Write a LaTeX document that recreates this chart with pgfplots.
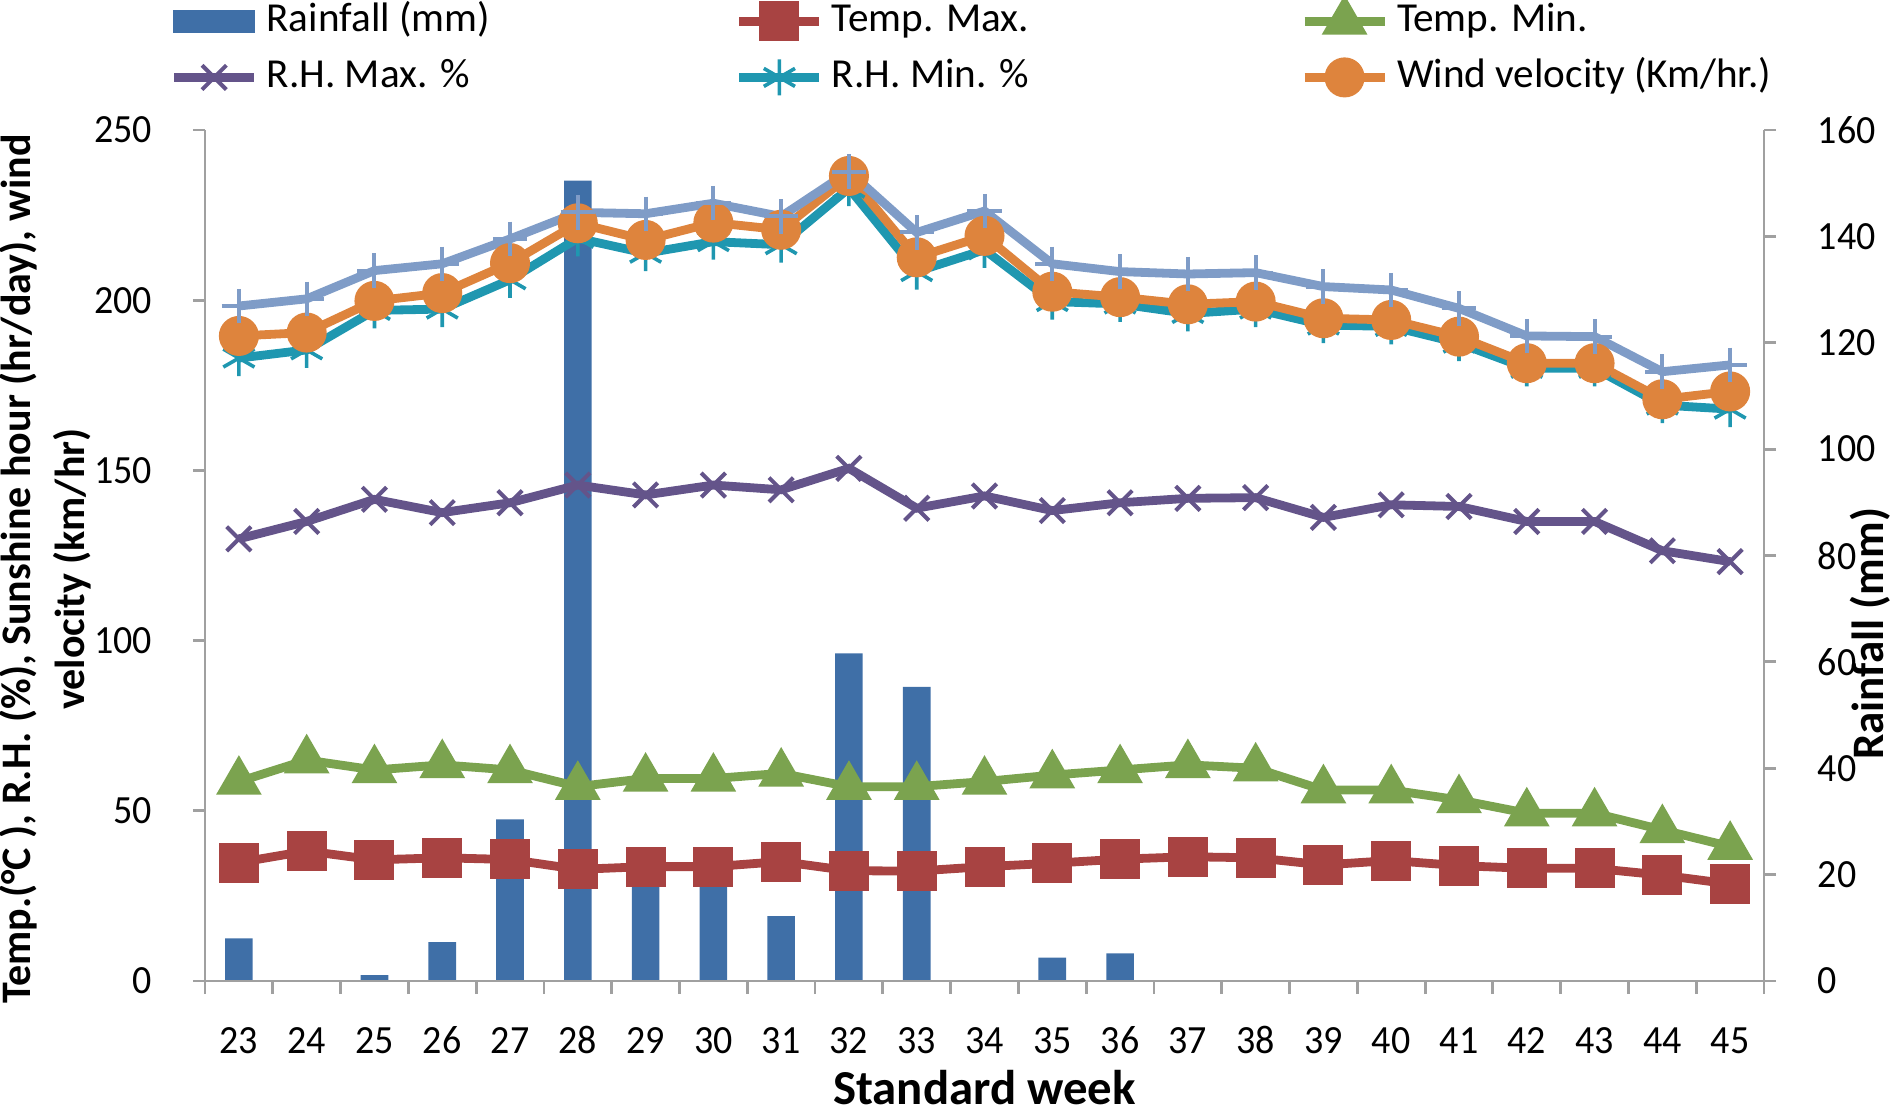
\documentclass[border=0pt]{standalone}
\usepackage{fontspec}
\setmainfont{Carlito}
\newfontfamily\tickfont{Carlito}[FakeStretch=0.95]
\usepackage{pgfplots}
\pgfplotsset{compat=1.18}
\definecolor{barblue}{HTML}{3F6FA7}
\definecolor{tmaxred}{HTML}{A84342}
\definecolor{tmingreen}{HTML}{7BA34F}
\definecolor{rhmaxpurple}{HTML}{64548A}
\definecolor{rhminteal}{HTML}{1F97B0}
\definecolor{windorange}{HTML}{DE843D}
\definecolor{sunblue}{HTML}{7F9CC7}
\definecolor{axisgray}{HTML}{A0A0A0}
\begin{document}
\begin{tikzpicture}
\pgfplotsset{
  common/.style={
    scale only axis, width=389.75pt, height=212.75pt,
    at={(0,0)}, anchor=south west,
    xmin=22.5, xmax=45.5,
    axis line style={draw=axisgray, line width=0.7pt},
    tick style={draw=axisgray, line width=0.7pt},
    tick align=outside,
    major tick length=3pt,
    /pgf/number format/assume math mode=true,
    ticklabel style={font=\tickfont\fontsize{10}{12}\selectfont, text=black},
    clip=false,
  }
}
% ---------- rainfall (right axis) ----------
\begin{axis}[common,
  axis x line=none,
  axis y line*=right,
  ymin=0, ymax=160, ytick={0,20,...,160},
  yticklabel style={anchor=west, inner xsep=0pt, xshift=10.25pt},
  every axis y label/.style={at={(axis description cs:1,0.408)}, xshift=26.5pt, rotate=90, anchor=center, font=\bfseries\fontsize{11.25}{13}\selectfont},
  ylabel={Rainfall (mm)},
]
\addplot[ybar, bar width=6.9pt, bar shift=0pt, fill=barblue, draw=none] coordinates {
(23,8.0) (24,0) (25,1.1) (26,7.3) (27,30.4) (28,150.5) (29,21) (30,21) (31,12.2)
(32,61.6) (33,55.3) (34,0) (35,4.4) (36,5.2) (37,0) (38,0) (39,0) (40,0) (41,0)
(42,0) (43,0) (44,0) (45,0)};
\end{axis}
% ---------- lines (left axis) ----------
\begin{axis}[common,
  axis x line*=bottom, axis y line*=left,
  ymin=0, ymax=250, ytick={0,50,...,250},
  xtick={23,...,45}, minor xtick={22.5,23.5,...,45.5},
  major x tick style={draw=none},
  minor tick length=3.3pt,
  yticklabel style={anchor=east, inner xsep=0pt, xshift=-10pt},
  xticklabel style={anchor=base, yshift=-15pt},
  every axis y label/.style={at={(axis description cs:0,0.484)}, xshift=-40pt, rotate=90, anchor=center, align=center, font=\bfseries\fontsize{10.5}{13.5}\selectfont},
  ylabel={Temp.(°C ), R.H. (\%), Sunshine hour (hr/day), wind\\velocity (km/hr)},
  every axis x label/.style={at={(axis description cs:0.5,0)}, yshift=-30.75pt, anchor=base, inner sep=0pt, font=\bfseries\fontsize{12.2}{14}\selectfont},
  xlabel={Standard week},
  legend columns=3,
  legend cell align=left,
  legend style={at={(0,1)}, anchor=west, xshift=-9pt, yshift=20.15pt,
    draw=none, fill=none, inner sep=0pt, row sep=4pt,
    font=\fontsize{10.3}{12}\selectfont,
    nodes={inner xsep=2pt, inner ysep=0pt, text height=7.5pt, text depth=2.5pt},
    /tikz/every even column/.append style={column sep=0pt}},
  legend image code/.code={\draw[mark repeat=2,mark phase=2,#1] plot coordinates {(0pt,0pt) (10pt,0pt) (20pt,0pt)};},
]
\addlegendimage{legend image code/.code={\fill[barblue] (0pt,-2.75pt) rectangle (20pt,2.75pt);}}
\addlegendentry{\makebox[115.1pt][l]{Rainfall (mm)}}

\addplot[color=tmaxred, line width=2.2pt, mark=square*, mark size=3.9pt, mark options={solid, fill=tmaxred}] coordinates {
(23,34.8) (24,38.2) (25,35.6) (26,36.2) (27,35.7) (28,32.8) (29,33.6) (30,33.6) (31,35.1)
(32,32.4) (33,32.3) (34,33.6) (35,34.6) (36,35.8) (37,36.5) (38,36.2) (39,34.1) (40,35.4)
(41,33.9) (42,33.1) (43,33.1) (44,31.1) (45,28.5)};
\addlegendentry{\makebox[115.1pt][l]{Temp. Max.}}

\addplot[color=tmingreen, line width=2.2pt, mark=triangle*, mark size=4.4pt, mark options={solid, fill=tmingreen}] coordinates {
(23,58.6) (24,64.9) (25,62.0) (26,63.5) (27,62.0) (28,57.1) (29,59.5) (30,59.5) (31,61.0)
(32,57.1) (33,57.1) (34,58.6) (35,60.5) (36,62.0) (37,63.5) (38,62.5) (39,56.1) (40,56.1)
(41,53.2) (42,49.3) (43,49.3) (44,44.4) (45,39.5)};
\addlegendentry{Temp. Min.}

\addplot[color=rhmaxpurple, line width=2.2pt, mark=x, mark size=4.3pt, mark options={solid, line width=1pt}] coordinates {
(23,129.9) (24,135.0) (25,141.5) (26,137.6) (27,140.5) (28,145.7) (29,142.8) (30,145.7) (31,144.3)
(32,150.6) (33,138.9) (34,142.5) (35,138.2) (36,140.5) (37,141.8) (38,142.0) (39,136.2) (40,139.9)
(41,139.4) (42,135.0) (43,135.0) (44,126.4) (45,123.2)};
\addlegendentry{\makebox[115.1pt][l]{R.H. Max. \%}}

\addplot[color=rhminteal, line width=2.2pt, mark=asterisk, mark size=4.5pt, mark options={solid, line width=0.9pt}] coordinates {
(23,183.0) (24,185.4) (25,197.0) (26,197.4) (27,206.0) (28,218.2) (29,213.8) (30,217.2) (31,216.3)
(32,232.9) (33,208.4) (34,214.8) (35,199.6) (36,198.9) (37,196.1) (38,197.4) (39,192.7) (40,192.3)
(41,187.4) (42,180.0) (43,180.0) (44,169.2) (45,168.0)};
\addlegendentry{\makebox[115.1pt][l]{R.H. Min. \%}}

\addplot[color=windorange, line width=2.2pt, mark=*, mark size=3.9pt, mark options={solid, fill=windorange}] coordinates {
(23,189.5) (24,190.5) (25,199.8) (26,202.1) (27,210.9) (28,222.6) (29,217.7) (30,222.8) (31,220.7)
(32,236.5) (33,212.6) (34,218.9) (35,202.5) (36,200.9) (37,198.8) (38,199.6) (39,194.7) (40,194.2)
(41,189.3) (42,181.5) (43,181.5) (44,170.9) (45,173.2)};
\addlegendentry{Wind velocity (Km/hr.)}

\addplot[forget plot, color=sunblue, line width=2.2pt, mark=+, mark size=4.3pt, mark options={solid, line width=1pt}] coordinates {
(23,198.3) (24,200.4) (25,208.7) (26,210.7) (27,218.0) (28,225.8) (29,225.4) (30,228.5) (31,224.6)
(32,237.8) (33,219.9) (34,226.2) (35,210.7) (36,208.4) (37,207.7) (38,208.1) (39,204.0) (40,203.0)
(41,197.6) (42,189.5) (43,189.3) (44,179.0) (45,181.0)};
\end{axis}
\pgfresetboundingbox
\path[use as bounding box] (-51.25pt,-34pt) rectangle (421.75pt,245.25pt);
\end{tikzpicture}
\end{document}
